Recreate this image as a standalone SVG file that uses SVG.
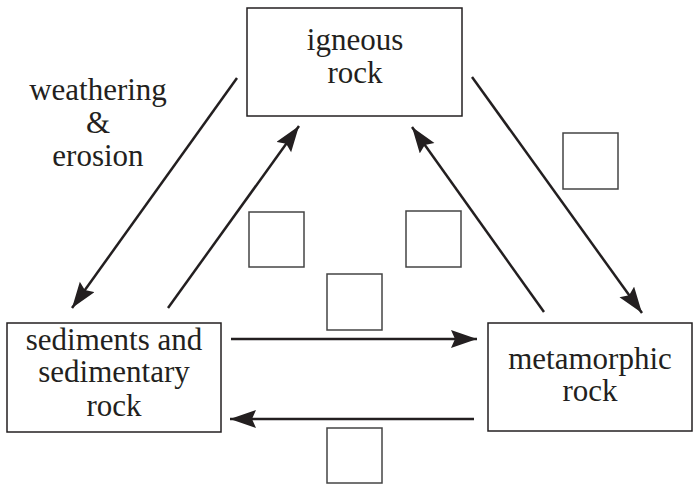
<svg xmlns="http://www.w3.org/2000/svg" width="697" height="486" viewBox="0 0 697 486">
<style>
.box{fill:#fff;stroke:#231f20;stroke-width:1.5}
.sq{fill:#fff;stroke:#444;stroke-width:1.5}
.t{font-family:"Liberation Serif","Times New Roman",serif;font-size:31px;fill:#231f20;text-anchor:middle}
.c{stroke:#231f20;stroke-width:2.5;fill:none;marker-end:url(#ah)}
</style>
<defs>
<marker id="ah" markerUnits="userSpaceOnUse" markerWidth="28" markerHeight="20" refX="26" refY="9" orient="auto">
<path d="M0,0 L26,9 L0,18 L4,9 z" fill="#231f20"/>
</marker>
</defs>
<g id="connectors">
<line class="c" x1="237" y1="78" x2="72" y2="308"/>
<line class="c" x1="168" y1="308" x2="299" y2="126"/>
<line class="c" x1="472" y1="77" x2="642" y2="313"/>
<line class="c" x1="544" y1="312" x2="412" y2="127"/>
<line class="c" x1="231" y1="339" x2="477" y2="339"/>
<line class="c" x1="474" y1="419" x2="230" y2="419"/>
</g>
<g id="igneous">
<rect class="box" x="247" y="8" width="215" height="108"/>
<text class="t" x="355" y="50">igneous</text>
<text class="t" x="355" y="83">rock</text>
</g>
<g id="sediments">
<rect class="box" x="7" y="323" width="214" height="109"/>
<text class="t" x="114" y="350">sediments and</text>
<text class="t" x="114" y="382">sedimentary</text>
<text class="t" x="114" y="416">rock</text>
</g>
<g id="metamorphic">
<rect class="box" x="488" y="323" width="204" height="108"/>
<text class="t" x="590" y="369">metamorphic</text>
<text class="t" x="590" y="401">rock</text>
</g>
<g id="weathering-label">
<text class="t" x="98" y="100">weathering</text>
<text class="t" x="98" y="133">&amp;</text>
<text class="t" x="98" y="166">erosion</text>
</g>
<g id="blank-a"><rect class="sq" x="563" y="133" width="55" height="56"/></g>
<g id="blank-b"><rect class="sq" x="249" y="212" width="55" height="55"/></g>
<g id="blank-c"><rect class="sq" x="406" y="211" width="55" height="56"/></g>
<g id="blank-d"><rect class="sq" x="327" y="274" width="55" height="56"/></g>
<g id="blank-e"><rect class="sq" x="327" y="428" width="55" height="55"/></g>
</svg>
